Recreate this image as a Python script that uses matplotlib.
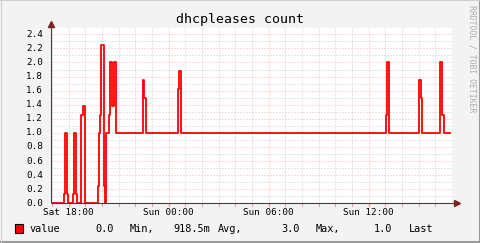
import numpy as np
import matplotlib
matplotlib.use("Agg")
import matplotlib.pyplot as plt

# step change points, hours relative to Sat 18:00, and value held from each point on
t = [-1.08, -0.28, -0.20, -0.10, -0.04,
     0.26, 0.32, 0.44, 0.50,
     0.74, 0.86, 0.98,
     1.78, 1.84, 1.88, 1.94, 2.10, 2.16, 2.22, 2.26, 2.42, 2.48, 2.58, 2.70, 2.82,
     4.48, 4.54, 4.62,
     6.58, 6.64, 6.72,
     19.04, 19.10, 19.20,
     21.00, 21.11, 21.20,
     22.28, 22.38, 22.50, 22.88]
v = [0, 0.125, 1.0, 0.125, 0,
     0.125, 1.0, 0.125, 0,
     1.25, 1.375, 0,
     0.25, 1.0, 1.25, 2.25, 0.25, 0, 0.5, 1.0, 1.25, 2.0, 1.375, 2.0, 1.0,
     1.75, 1.5, 1.0,
     1.625, 1.875, 1.0,
     1.25, 2.0, 1.0,
     1.75, 1.5, 1.0,
     2.0, 1.25, 1.0, 1.0]

xtick_pos = [0, 6, 12, 18]
xtick_labels = ["Sat 18:00", "Sun 00:00", "Sun 06:00", "Sun 12:00"]
title = "dhcpleases count"
legend_parts = [("value", 30), ("0.0", 95.7), ("Min,", 129.3), ("918.5m", 173.5),
                ("Avg,", 217.5), ("3.0", 281), ("Max,", 315.3), ("1.0", 374), ("Last", 409.3)]

W, H = 481, 243
fig = plt.figure(figsize=(W / 100, H / 100), dpi=100, facecolor="#f3f3f3")
mono = "DejaVu Sans Mono"

x0, x1 = 50.7, 451.7
ytop, ybot = 28.0, 203.3
ax = fig.add_axes([x0 / W, (H - ybot) / H, (x1 - x0) / W, (ybot - ytop) / H])
ax.set_facecolor("white")
xmin, xmax = -1.08, 22.98
ymax = 2.49
ax.set_xlim(xmin, xmax)
ax.set_ylim(0, ymax)
for s in ax.spines.values():
    s.set_visible(False)
ax.set_xticks([])
ax.set_yticks([])

minor_c = (0.6, 0.6, 0.6, 0.5)
major_c = (1.0, 0.35, 0.35, 0.45)
dots = (0, (1, 2))

# grid
for h in range(-1, 23):
    if h % 6 == 0:
        continue
    ax.axvline(h, color=minor_c, lw=0.72, ls=dots, zorder=1)
for h in xtick_pos:
    ax.axvline(h, color=major_c, lw=0.72, ls=dots, zorder=1)
for k in range(1, 25):
    y = k * 0.1
    c = major_c if k % 2 == 0 else minor_c
    ax.axhline(y, color=c, lw=0.72, ls=dots, zorder=1)

# ticks below x axis
for h in range(-1, 23):
    c = (1.0, 0.3, 0.3, 0.7) if h % 6 == 0 else (0.9, 0.4, 0.4, 0.6)
    ax.plot([h, h], [0, -0.035], color=c, lw=0.72, clip_on=False, zorder=2)

# data
ax.step(t, v, where="post", color="#ff0000", lw=1.3, zorder=3)

# axes with arrows
ax.plot([xmin, 23.28], [0, 0], color="#404040", lw=0.8, clip_on=False, zorder=4,
        solid_capstyle="butt")
ax.plot([xmin, xmin], [0, 2.53], color="#404040", lw=0.8, clip_on=False, zorder=4,
        solid_capstyle="butt")
ax.plot([23.3], [0], marker=">", color="#802020", ms=4, clip_on=False, zorder=5)
ax.plot([xmin], [2.55], marker="^", color="#802020", ms=4, clip_on=False, zorder=5)

# y labels
for k in range(0, 13):
    y = k * 0.2
    ax.text(xmin - 0.45, y, f"{y:.1f}", ha="right", va="center", fontsize=6.7,
            family=mono, color="black")
for pos, lab in zip(xtick_pos, xtick_labels):
    ax.text(pos, -0.13, lab, ha="center", va="center", fontsize=6.7,
            family=mono, color="black")

fig.text(239.7 / W, 1 - 19.3 / H, title, ha="center", va="center",
         fontsize=9.5, family=mono, color="black")
fig.text(471.7 / W, 1 - 5 / H, "RRDTOOL / TOBI OETIKER", rotation=-90,
         ha="center", va="top", fontsize=5.9, family=mono, color="#b0b0b0")

# legend
fig.patches.append(plt.Rectangle((15 / W, 1 - 233.3 / H), 8 / W, 9 / H,
                                 transform=fig.transFigure, facecolor="#ff0000",
                                 edgecolor="black", lw=0.8))
for txt, px in legend_parts:
    fig.text(px / W, 1 - 229 / H, txt, ha="left", va="center", fontsize=7.4,
             family=mono, color="black")

# outer frame
fig.lines.append(plt.Line2D([0, 1], [1 / H, 1 / H], transform=fig.transFigure,
                            color="#9a9a9a", lw=1.5))
fig.lines.append(plt.Line2D([1 - 1 / W, 1 - 1 / W], [0, 1], transform=fig.transFigure,
                            color="#9a9a9a", lw=1.5))
fig.lines.append(plt.Line2D([0, 1], [1 - 0.5 / H, 1 - 0.5 / H], transform=fig.transFigure,
                            color="#d0d0d0", lw=0.8))
fig.lines.append(plt.Line2D([0.5 / W, 0.5 / W], [0, 1], transform=fig.transFigure,
                            color="#d0d0d0", lw=0.8))

fig.savefig("out.png", dpi=100, facecolor=fig.get_facecolor())
